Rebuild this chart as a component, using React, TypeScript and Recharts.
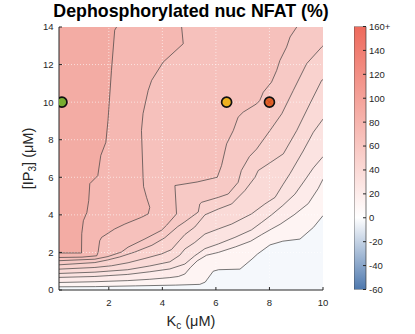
import React from 'react';
import {
  ComposedChart,
  Area,
  Line,
  Scatter,
  XAxis,
  YAxis,
  ReferenceLine,
  CartesianGrid,
  BarChart,
  Bar,
} from 'recharts';

// contour lines of the map, highest level first, as [Kc, IP3] pairs
const c1 = [[0.14, 1.97], [0.98, 1.97], [0.99, 3.0], [1.05, 3.69], [1.18, 4.12], [1.25, 4.76], [1.29, 5.66], [1.59, 6.09], [1.7, 7.16], [1.89, 7.86], [1.97, 9.02], [2.1, 11.69], [2.22, 13.83], [2.29, 14]];
const c2 = [[0.14, 1.73], [1.0, 1.75], [1.55, 1.82], [1.6, 2.0], [1.66, 2.62], [1.73, 2.8], [2.22, 3.25], [2.6, 3.51], [3.22, 3.87], [3.47, 4.05], [3.53, 4.4], [3.41, 4.93], [3.3, 5.5], [3.28, 6.0], [3.22, 8.49], [3.28, 9.4], [3.47, 10.62], [3.6, 11.16], [4.03, 12.13], [4.78, 13.11], [4.72, 14]];
const c3 = [[0.14, 1.56], [1.48, 1.64], [1.97, 1.78], [2.47, 2.02], [2.72, 2.28], [3.35, 2.72], [3.97, 3.18], [4.16, 3.45], [4.53, 4.05], [4.47, 5.56], [5.3, 5.75], [6.05, 6.0], [6.21, 6.62], [6.4, 7.78], [6.65, 8.49], [6.83, 9.2], [7.02, 9.47], [7.52, 9.91], [7.64, 10.09], [7.77, 10.53], [8.08, 11.07], [8.27, 11.69], [8.39, 12.22], [8.64, 12.93], [8.77, 13.47], [9.02, 14]];
const c4 = [[0.14, 1.34], [1.48, 1.46], [1.96, 1.6], [2.41, 1.76], [2.97, 2.02], [3.61, 2.38], [4.09, 2.78], [4.58, 3.38], [4.84, 3.63], [5.34, 4.15], [5.4, 4.58], [5.47, 4.67], [6.09, 4.93], [6.46, 5.11], [6.83, 5.73], [6.95, 6.36], [7.25, 7.1], [7.52, 7.5], [8.02, 8.49], [8.46, 9.38], [8.89, 10.62], [9.39, 12.05], [9.95, 12.93], [10, 13.0]];
const c5 = [[0.14, 1.11], [1.48, 1.2], [2.1, 1.29], [2.72, 1.45], [3.35, 1.68], [3.97, 1.92], [4.34, 2.15], [4.65, 2.65], [4.84, 2.95], [5.21, 3.35], [5.59, 4.0], [6.09, 4.31], [6.59, 4.58], [7.08, 5.29], [7.46, 6.0], [7.58, 6.36], [8.05, 6.8], [8.52, 7.25], [9.02, 8.49], [9.51, 9.91], [9.95, 11.16], [10, 11.2]];
const c6 = [[0.14, 0.88], [1.48, 0.95], [2.71, 1.08], [3.53, 1.28], [4.28, 1.5], [4.65, 1.85], [4.84, 2.18], [5.21, 2.53], [5.59, 2.98], [6.09, 3.25], [6.59, 3.51], [7.33, 4.05], [7.83, 4.58], [8.21, 4.93], [8.5, 5.6], [8.77, 6.2], [9.26, 7.4], [9.64, 8.4], [10, 9.1]];
const c7 = [[0.14, 0.67], [1.48, 0.72], [2.71, 0.83], [3.53, 0.97], [4.28, 1.12], [4.84, 1.38], [5.21, 1.82], [5.59, 2.2], [6.09, 2.45], [6.71, 2.8], [7.33, 3.2], [7.71, 3.6], [8.08, 4.0], [8.5, 4.5], [8.95, 5.1], [9.3, 5.8], [9.64, 6.5], [10, 7.1]];
const c8 = [[0.14, 0.4], [1.48, 0.44], [2.71, 0.5], [3.53, 0.57], [4.28, 0.66], [4.6, 0.72], [4.84, 0.85], [5.05, 1.2], [5.3, 1.55], [5.65, 1.85], [6.09, 2.0], [6.74, 2.3], [7.3, 2.6], [7.71, 2.95], [8.08, 3.25], [8.4, 3.5], [8.92, 4.0], [9.45, 4.6], [9.82, 5.4], [10, 5.9]];
const c9 = [[0.14, 0.17], [1.5, 0.18], [3.0, 0.22], [4.5, 0.26], [5.4, 0.3], [5.6, 0.42], [5.9, 1.0], [6.1, 1.08], [6.9, 1.11], [7.35, 1.65], [7.55, 1.91], [8.02, 2.4], [8.5, 2.6], [9.14, 2.71], [9.64, 3.33], [10, 3.96]];

const contourLines = [c1, c2, c3, c4, c5, c6, c7, c8, c9];
// fill of the band on the high side of each contour
const bandFill = ['#f3aca4', '#f5b8b2', '#f6c1bc', '#f7c9c5', '#f9d2ce', '#fadad7', '#fbe3e1', '#fdebea', '#fef4f3'];
const floorFill = '#f5f8fc';

const kcDomain = [0.14, 10];
const ip3Domain = [0, 14];
const kcTicks = [2, 4, 6, 8, 10];
const ip3Ticks = [0, 2, 4, 6, 8, 10, 12, 14];
const kcGrid = [2, 4, 6, 8];
const ip3Grid = [2, 4, 6, 8, 10, 12];

const markerKc = [0.25, 6.4, 8];
const markerIp3 = [10, 10, 10];
const markerFill = ['#77ac30', '#edb120', '#e0622a'];

const cbarTicks = [-60, -40, -20, 0, 20, 40, 60, 80, 100, 120, 140, 160];
const cbarRange = [{ name: 'nfat', v: [-60, 160] }];

const FONT = '"Liberation Sans", Arial, Helvetica, sans-serif';
const INK = '#262626';

const toPts = (a: number[][]) => a.map(([x, y]) => ({ x, y }));

const tickStyle = { fill: INK, fontSize: 9.5, fontFamily: FONT };

function Marker(props: any) {
  const { cx, cy, fill, cross } = props;
  return (
    <g>
      <circle cx={cx} cy={cy} r={5} fill={fill} stroke="#111" strokeWidth={1.7} />
      {cross && (
        <g stroke="#cf4a1e" strokeWidth={0.9}>
          <line x1={cx - 2.3} y1={cy - 2.3} x2={cx + 2.3} y2={cy + 2.3} />
          <line x1={cx - 2.3} y1={cy + 2.3} x2={cx + 2.3} y2={cy - 2.3} />
        </g>
      )}
    </g>
  );
}

export default function App() {
  const yTop = ip3Domain[1];
  return (
    <div style={{ position: 'absolute', left: 0, top: 0, width: 415, height: 334, fontFamily: FONT }}>
      <div style={{ position: 'absolute', left: 0, top: 0 }}>
        <ComposedChart width={415} height={334} margin={{ top: 27, right: 92, bottom: 0, left: 0 }}>
          <CartesianGrid horizontal={false} vertical={false} fill={floorFill} stroke="none" />
          <XAxis
            type="number"
            dataKey="x"
            domain={kcDomain}
            ticks={kcTicks}
            allowDataOverflow
            interval={0}
            height={44}
            tickSize={-3}
            tickMargin={12}
            tick={tickStyle}
            tickLine={{ stroke: INK }}
            axisLine={{ stroke: INK }}
          />
          <XAxis
            xAxisId="top"
            orientation="top"
            type="number"
            domain={kcDomain}
            ticks={kcTicks}
            allowDataOverflow
            interval={0}
            height={0}
            tick={false}
            tickSize={-3}
            tickLine={{ stroke: INK }}
            axisLine={{ stroke: INK }}
          />
          <YAxis
            type="number"
            domain={ip3Domain}
            ticks={ip3Ticks}
            allowDataOverflow
            interval={0}
            width={59}
            tickSize={-3}
            tickMargin={8.5}
            tick={tickStyle}
            tickLine={{ stroke: INK }}
            axisLine={{ stroke: INK }}
          />
          <YAxis
            yAxisId="right"
            orientation="right"
            type="number"
            domain={ip3Domain}
            ticks={ip3Ticks}
            allowDataOverflow
            interval={0}
            width={0}
            tick={false}
            tickSize={-3}
            tickLine={{ stroke: INK }}
            axisLine={{ stroke: INK }}
          />
          {contourLines
            .map((line, i) => (
              <Area
                key={`band-${i}`}
                data={toPts(line)}
                dataKey={(d: any) => [d.y, yTop]}
                type="linear"
                fill={bandFill[i]}
                fillOpacity={1}
                stroke="none"
                dot={false}
                activeDot={false}
                isAnimationActive={false}
              />
            ))
            .reverse()}
          {kcGrid.map((v) => (
            <ReferenceLine key={`gx-${v}`} x={v} stroke="#ffffff" strokeOpacity={0.6} strokeDasharray="1 2" />
          ))}
          {ip3Grid.map((v) => (
            <ReferenceLine key={`gy-${v}`} y={v} stroke="#ffffff" strokeOpacity={0.6} strokeDasharray="1 2" />
          ))}
          {contourLines.map((line, i) => (
            <Line
              key={`line-${i}`}
              data={toPts(line)}
              dataKey="y"
              type="linear"
              stroke="#3d3d3d"
              strokeWidth={0.7}
              dot={false}
              activeDot={false}
              isAnimationActive={false}
            />
          ))}
          {markerKc.map((kc, i) => (
            <Scatter
              key={`m-${i}`}
              data={[{ x: kc, y: markerIp3[i] }]}
              dataKey="y"
              fill={markerFill[i]}
              isAnimationActive={false}
              shape={(p: any) => <Marker {...p} fill={markerFill[i]} cross={i === 2} />}
            />
          ))}
        </ComposedChart>
      </div>

      <div style={{ position: 'absolute', left: 354, top: 0 }}>
        <BarChart
          width={61}
          height={334}
          data={cbarRange}
          margin={{ top: 26.5, right: 0, bottom: 44.5, left: 0 }}
          barCategoryGap={0}
        >
          <defs>
            <linearGradient id="nfatScale" x1="0" y1="0" x2="0" y2="1">
              <stop offset="0" stopColor="#ee6a5c" />
              <stop offset="0.727" stopColor="#ffffff" />
              <stop offset="1" stopColor="#4d78ae" />
            </linearGradient>
          </defs>
          <XAxis dataKey="name" type="category" hide />
          <YAxis
            orientation="right"
            type="number"
            domain={[-60, 160]}
            ticks={cbarTicks}
            allowDataOverflow
            interval={0}
            width={49}
            tickSize={-3}
            tickMargin={6}
            axisLine={false}
            tickLine={{ stroke: INK }}
            tick={{ ...tickStyle, textAnchor: 'start' }}
            tickFormatter={(v: number) => (v === 160 ? '160+' : String(v))}
          />
          <Bar dataKey="v" fill="url(#nfatScale)" stroke="#3a3a3a" strokeWidth={0.7} isAnimationActive={false} />
        </BarChart>
      </div>

      <svg width={415} height={334} style={{ position: 'absolute', left: 0, top: 0, pointerEvents: 'none' }}>
        <text x={191} y={17} textAnchor="middle" fontWeight="bold" fontSize={17.8} fill="#000" fontFamily={FONT}>
          Dephosphorylated nuc NFAT (%)
        </text>
        <text x={191} y={325.5} textAnchor="middle" fontSize={14.5} fill={INK} fontFamily={FONT}>
          K<tspan fontSize={10} dy={3}>c</tspan>
          <tspan dy={-3}> (μM)</tspan>
        </text>
        <text transform="translate(33,158.5) rotate(-90)" textAnchor="middle" fontSize={14.5} fill={INK} fontFamily={FONT}>
          [IP<tspan fontSize={10} dy={3}>3</tspan>
          <tspan dy={-3}>] (μM)</tspan>
        </text>
      </svg>
    </div>
  );
}
